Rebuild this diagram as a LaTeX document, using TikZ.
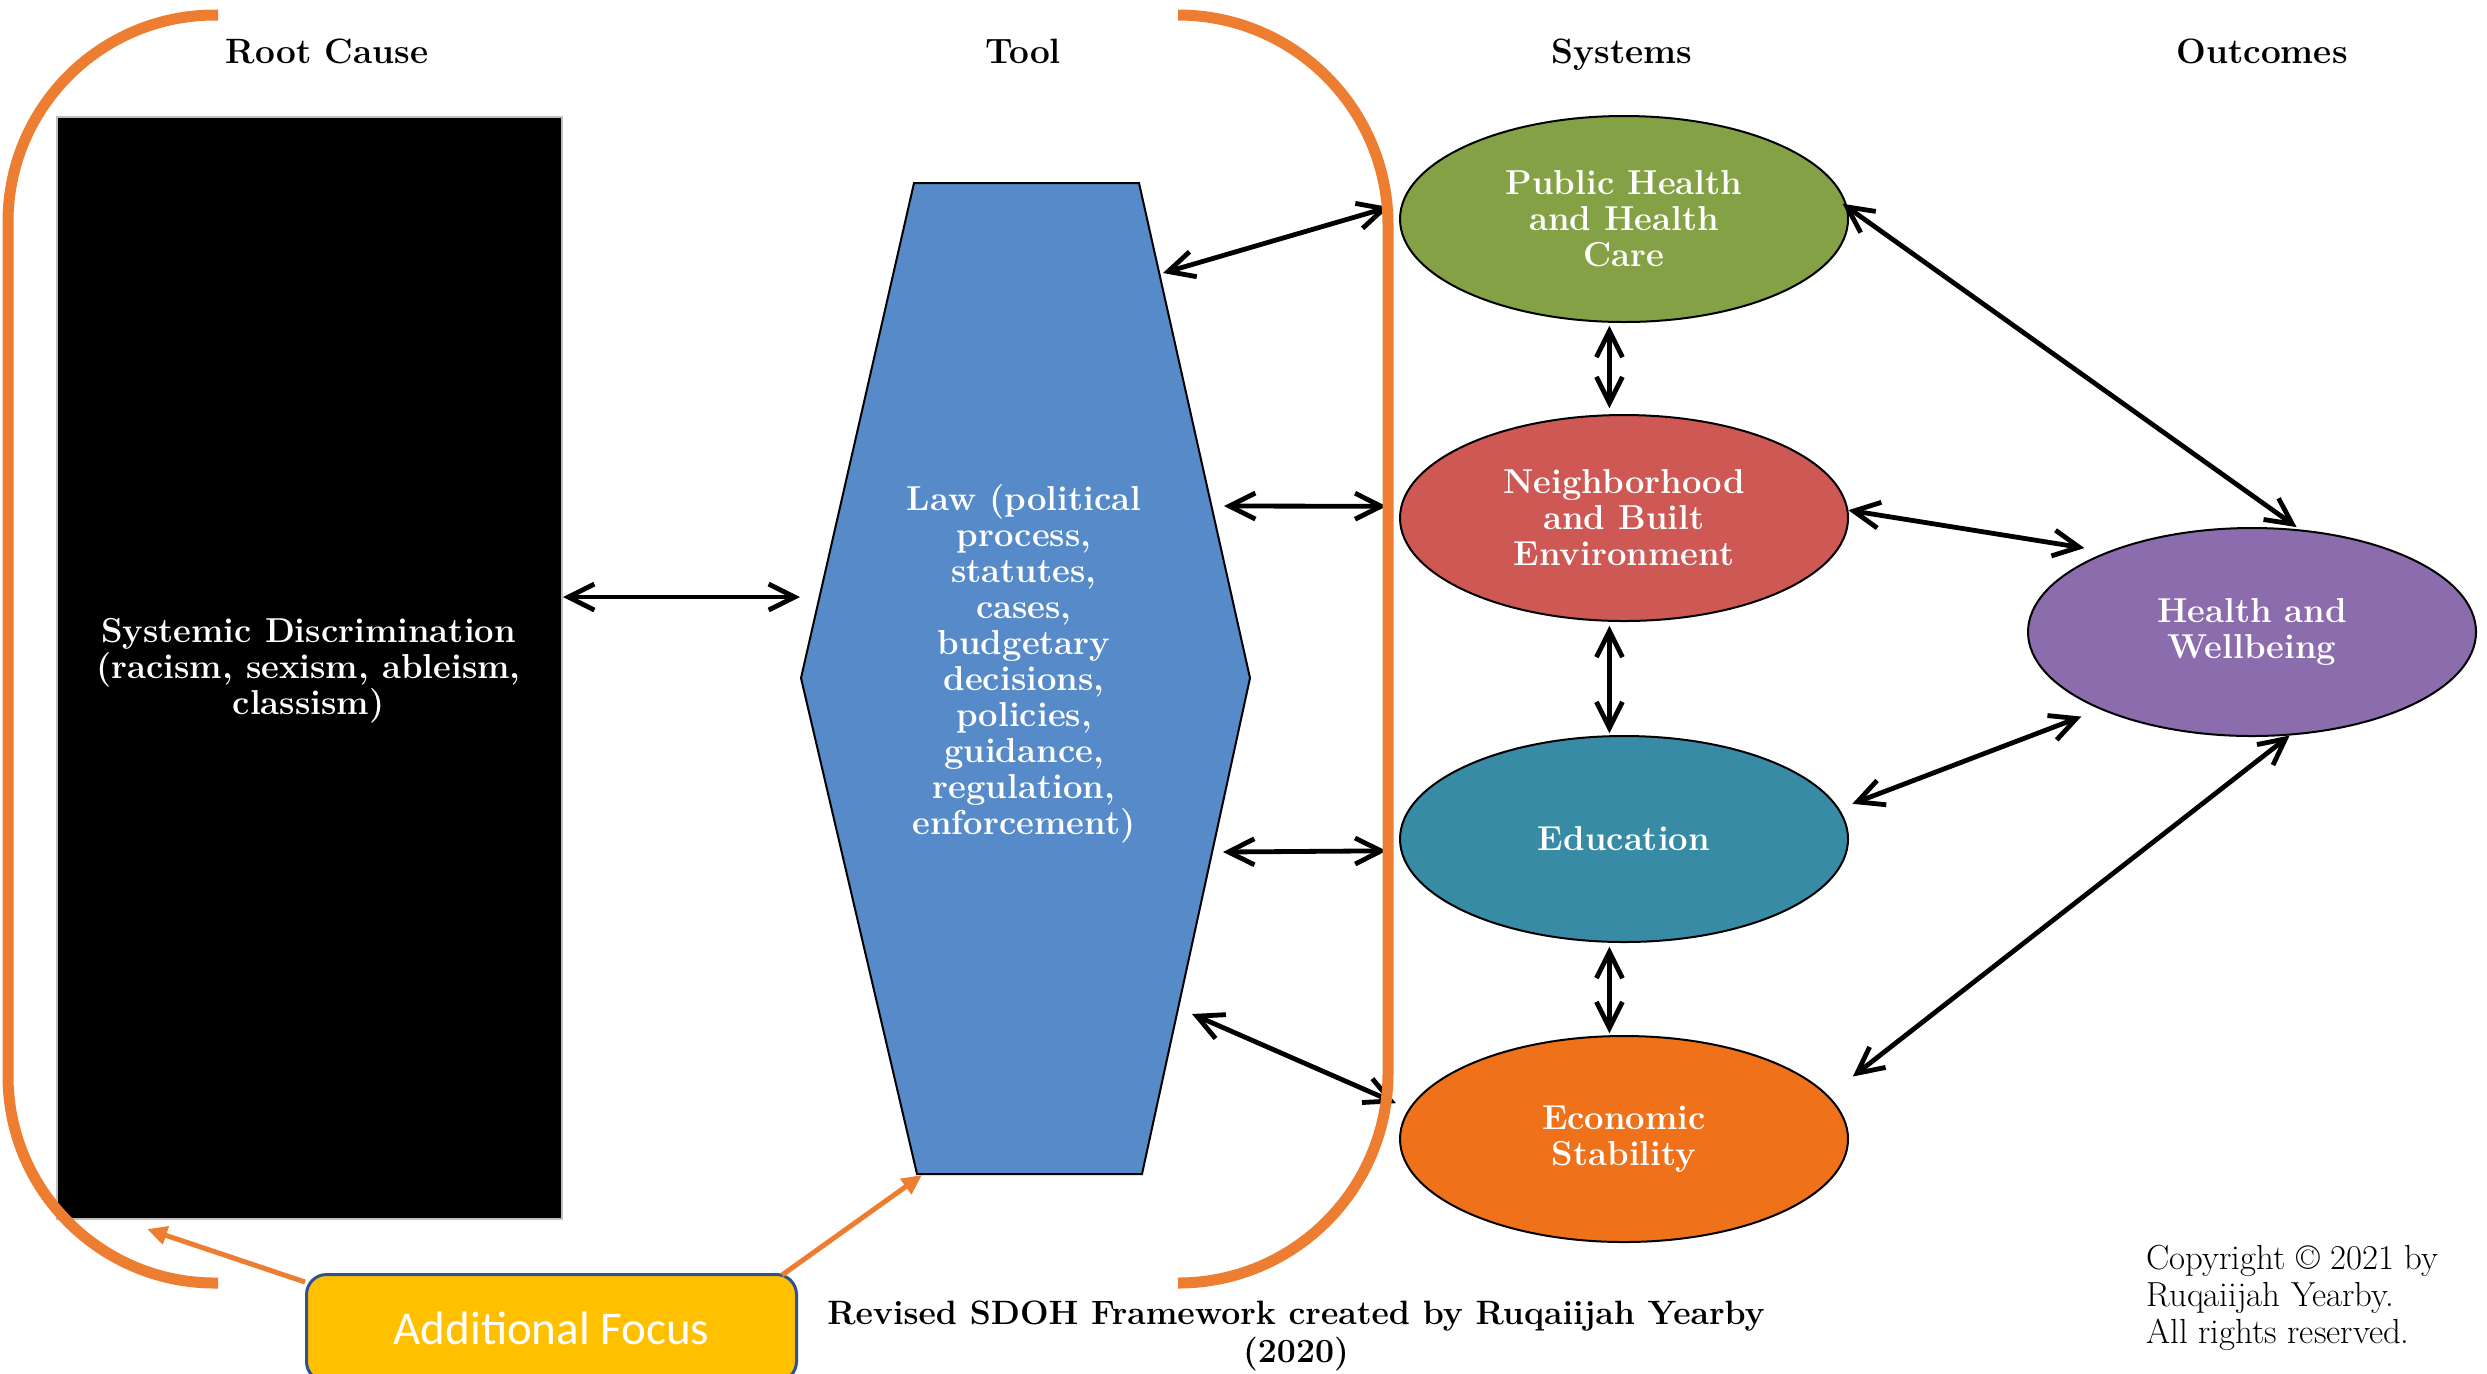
\documentclass[tikz,border=0pt]{standalone}
\usepackage{fontspec}
\newfontfamily\carlito{Carlito}
\usetikzlibrary{shapes.geometric,arrows.meta,calc}
\definecolor{brk}{RGB}{237,125,49}
\definecolor{hexblue}{RGB}{86,138,200}
\definecolor{cPH}{RGB}{132,161,70}
\definecolor{cNB}{RGB}{205,88,84}
\definecolor{cEd}{RGB}{55,139,165}
\definecolor{cEc}{RGB}{239,113,25}
\definecolor{cHW}{RGB}{139,108,172}
\definecolor{focusfill}{RGB}{255,192,0}
\definecolor{focusblue}{RGB}{47,82,143}
\tikzset{
  title/.style={font=\fontsize{17.6}{20}\selectfont\bfseries, anchor=base},
  inner/.style={text=white, font=\fontsize{17.3}{18}\selectfont\bfseries, align=center},
  sys/.style={ellipse, draw=black, line width=1pt, minimum width=224pt, minimum height=103pt, inner sep=0pt, inner},
  bi/.style={line width=2.4pt, {Straight Barb[length=13pt,width=13pt]}-{Straight Barb[length=13pt,width=13pt]}},
  oarr/.style={draw=brk, line width=2.5pt, -{Triangle[length=10pt,width=9pt]}},
  brkline/.style={draw=brk, line width=5.5pt},
}
\begin{document}
\begin{tikzpicture}[x=0.5pt,y=-0.5pt]
\useasboundingbox (0,0) rectangle (2487,1373);
\clip (0,0) rectangle (2487,1373);
\fill[white] (0,0) rectangle (2487,1373);

% titles
\node[title] (tRoot) at (327,63) {Root Cause};
\node[title] (tTool) at (1023,63) {Tool};
\node[title] (tSys) at (1622,63) {Systems};
\node[title] (tOut) at (2262,63) {Outcomes};

% root cause rectangle
\node[draw=black!25, line width=1pt, fill=black, minimum width=252.5pt, minimum height=551pt, inner sep=0pt, anchor=north west] (rc) at (56,116) {};
\node[inner] (rcText) at (308.5,671) {Systemic Discrimination\\(racism, sexism, ableism,\\classism)};

% hexagon
\coordinate (hTL) at (914,183);
\coordinate (hTR) at (1139,183);
\coordinate (hR) at (1250,678);
\coordinate (hBR) at (1142,1174);
\coordinate (hBL) at (917,1174);
\coordinate (hL) at (801,678);
\filldraw[fill=hexblue, draw=black, line width=1pt] (hTL) -- (hTR) -- (hR) -- (hBR) -- (hBL) -- (hL) -- cycle;
\node[inner] (law) at (1024,664) {Law (political\\process,\\statutes,\\cases,\\budgetary\\decisions,\\policies,\\guidance,\\regulation,\\enforcement)};

% systems
\node[sys, fill=cPH] (nPH) at (1624,219) {Public Health\\and Health\\Care};
\node[sys, fill=cNB] (nNB) at (1624,518) {Neighborhood\\and Built\\Environment};
\node[sys, fill=cEd] (nEd) at (1624,839) {Education};
\node[sys, fill=cEc] (nEc) at (1624,1139) {Economic\\Stability};
\node[sys, fill=cHW, minimum height=104pt] (nHW) at (2252,632) {Health and\\Wellbeing};

% arrows: root cause <-> tool
\coordinate (rcA) at (563,597);
\coordinate (hxA) at (800,597);
\draw[bi] (rcA) -- (hxA);

% tool <-> systems
\coordinate (hx1) at (1163,273);
\coordinate (hx2) at (1224,506);
\coordinate (hx3) at (1223,852);
\coordinate (hx4) at (1192,1014);
\draw[bi, shorten >=6.5pt] (hx1) -- (nPH.176);
\draw[bi, shorten >=7pt] (hx2) -- (nNB.177);
\draw[bi, shorten >=7pt] (hx3) -- (nEd.183);
\draw[bi, shorten >=7pt] (hx4) -- (nEc.172);

% systems vertical
\draw[bi, shorten <=1.5pt, shorten >=3pt] (nPH.262) -- (nNB.98);
\draw[bi, shorten <=2pt, shorten >=1pt] (nNB.262) -- (nEd.98);
\draw[bi, shorten <=2pt, shorten >=1pt] (nEd.262) -- (nEc.98);

% systems <-> outcomes
\draw[bi, shorten <=-3pt, shorten >=2pt] (nPH.3) -- (nHW.65);
\draw[bi, shorten >=11.5pt] (nNB.2) -- (nHW.151);
\draw[bi, shorten <=7pt, shorten >=10pt] (nEd.8) -- (nHW.207);
\draw[bi, shorten <=15.5pt] (nEc.12) -- (nHW.290);

% additional focus arrows
\coordinate (t1) at (147,1229);
\coordinate (t2) at (922,1175);
\node[draw=focusblue, line width=1.5pt, fill=focusfill, rounded corners=10pt, minimum width=245pt, minimum height=53.5pt, anchor=north west, inner sep=0pt, text=white, font=\carlito\fontsize{23.5}{28}\selectfont] (focus) at (305,1273) {Additional Focus};
\draw[oarr] ($(focus.north west)+(0,9)$) -- (t1);
\draw[oarr] ($(focus.north east)+(-16,2)$) -- (t2);

% brackets
\draw[brkline, rounded corners=103.5pt] (218,15) -- (8,15) -- (8,1283) -- (218,1283);
\draw[brkline, rounded corners=105pt] (1178,15) -- (1388,15) -- (1388,1283) -- (1178,1283);

% captions
\node[font=\fontsize{16.9}{19}\selectfont\bfseries, align=center] (cap) at (1296,1336) {Revised SDOH Framework created by Ruqaiijah Yearby\\(2020)};
\node[anchor=west, align=left, inner sep=0pt, font=\fontsize{17.4}{18.6}\selectfont] (copy) at (2146,1298) {Copyright \textcopyright{} 2021 by\\Ruqaiijah Yearby.\\All rights reserved.};
\end{tikzpicture}
\end{document}
